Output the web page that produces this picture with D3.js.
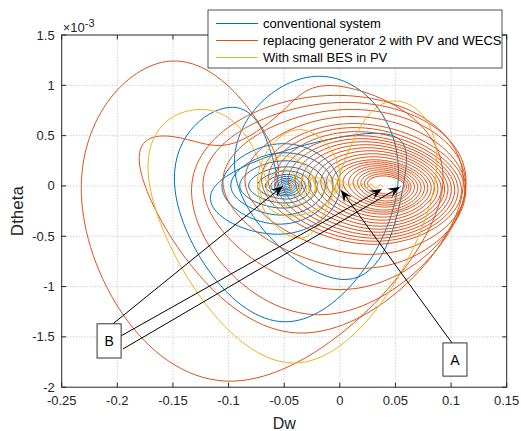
<!DOCTYPE html>
<html><head><meta charset="utf-8">
<script src="https://cdn.jsdelivr.net/npm/d3@7"></script>
<style>body{margin:0;background:#fff}svg{display:block}</style>
</head><body><svg id="c" width="521" height="431"></svg>
<script>
// ---------- data ----------
const xTicks = [-0.25,-0.2,-0.15,-0.1,-0.05,0,0.05,0.1,0.15];
const xTickLabels = ["-0.25","-0.2","-0.15","-0.1","-0.05","0","0.05","0.1","0.15"];
const yTicks = [-2,-1.5,-1,-0.5,0,0.5,1,1.5];            // x 10^-3
const yTickLabels = ["-2","-1.5","-1","-0.5","0","0.5","1","1.5"];
const seriesNames = ["conventional system","replacing generator 2 with PV and WECS","With small BES in PV"];
const seriesColors = ["#0072BD","#D95319","#EDB120"];

// trajectory points [Dw, Dtheta(x1e-3)], extreme points of each loop in order
const conventional = [
 [-0.055,0.0],[-0.064,0.40],[-0.100,0.78],[-0.148,-0.05],[-0.050,-1.35],[0.052,0.0],
 [-0.018,1.09],[-0.094,0.12],[0.005,-0.93],[0.057,0.0],[0.024,0.52],[-0.112,0.0],
 [-0.055,-0.48],[0.000,0.0],[-0.052,0.42],[-0.106,0.0],[-0.053,-0.38],[-0.006,0.0],
 [-0.051,0.33],[-0.098,0.0],[-0.051,-0.29],[-0.013,0.0],[-0.050,0.25],[-0.090,0.0],
 [-0.050,-0.22],[-0.020,0.0],[-0.049,0.19],[-0.082,0.0],[-0.049,-0.17],[-0.026,0.0],
 [-0.048,0.15],[-0.074,0.0],[-0.048,-0.13],[-0.031,0.0],[-0.048,0.115],[-0.067,0.0],
 [-0.048,-0.10],[-0.034,0.0],[-0.048,0.095],[-0.062,0.0],[-0.048,-0.085],[-0.037,0.0],
 [-0.048,0.075],[-0.059,0.0],[-0.048,-0.068],[-0.039,0.0],[-0.048,0.06],[-0.056,0.0],
 [-0.048,-0.052],[-0.041,0.0],[-0.048,0.045],[-0.054,0.0],[-0.048,-0.038],[-0.043,0.0],
 [-0.048,0.03],[-0.052,0.0],[-0.048,-0.024],[-0.045,0.0],[-0.048,0.016],[-0.050,0.0],
 [-0.048,-0.01],[-0.047,0.0]
];
const pvWecs = [
 [-0.058,0.0],[-0.066,0.50],[-0.153,1.24],[-0.232,-0.15],[-0.096,-1.94],[0.090,-0.15],
 [0.010,0.97],[-0.050,0.76],[-0.101,0.41],[-0.150,0.49],[-0.175,0.0],[-0.040,-1.46],
 [0.110,-0.08],[0.000,0.90],[-0.133,0.02],[-0.020,-1.28],[0.113,-0.04],[0.005,0.83],
 [-0.123,0.02],[0.000,-1.03],[0.113,0.0],[0.008,0.76],[-0.105,0.02],[0.018,-0.82],
 [0.113,0.0],[0.010,0.69],[-0.085,0.02],[0.026,-0.68],
 [0.112,0.0],[0.012,0.62],[-0.070,0.02],[0.030,-0.58],
 [0.109,0.0],[0.014,0.58],[-0.064,0.02],[0.031,-0.55],
 [0.106,0.0],[0.016,0.54],[-0.058,0.02],[0.032,-0.52],
 [0.103,0.0],[0.018,0.50],[-0.052,0.02],[0.033,-0.49],
 [0.100,0.0],[0.020,0.47],[-0.046,0.02],[0.034,-0.46],
 [0.097,0.0],[0.022,0.44],[-0.040,0.02],[0.035,-0.43],
 [0.094,0.0],[0.024,0.41],[-0.034,0.02],[0.036,-0.40],
 [0.091,0.0],[0.026,0.38],[-0.028,0.02],[0.037,-0.37],
 [0.088,0.0],[0.028,0.35],[-0.022,0.02],[0.037,-0.34],
 [0.085,0.0],[0.030,0.32],[-0.017,0.02],[0.038,-0.31],
 [0.082,0.0],[0.031,0.29],[-0.012,0.02],[0.038,-0.28],
 [0.079,0.0],[0.032,0.26],[-0.007,0.02],[0.039,-0.26],
 [0.076,0.0],[0.033,0.24],[-0.002,0.02],[0.039,-0.24],
 [0.073,0.0],[0.034,0.22],[0.003,0.02],[0.040,-0.21],
 [0.070,0.0],[0.035,0.20],[0.008,0.02],[0.040,-0.19],
 [0.067,0.0],[0.036,0.18],[0.012,0.02],[0.040,-0.17],
 [0.064,0.0],[0.037,0.16],[0.016,0.02],[0.041,-0.15],
 [0.062,0.0],[0.038,0.14],[0.019,0.02],[0.041,-0.12],
 [0.060,0.0],[0.039,0.12],[0.022,0.02],[0.041,-0.10],
 [0.058,0.0],[0.040,0.10],[0.025,0.02],[0.041,-0.08],
 [0.055,0.0]
];
const smallBes = [
 [-0.065,0.0],[-0.078,0.38],[-0.123,0.76],[-0.170,-0.05],[-0.042,-1.76],[0.084,-0.05],
 [0.045,0.84],[0.000,0.12],[-0.035,-0.52],[-0.074,0.0],[-0.036,0.56],[0.000,0.05],
 [-0.045,-0.30],[-0.072,0.0],[-0.050,0.30],[-0.022,0.0],[-0.047,-0.20],[-0.066,0.0],
 [-0.048,0.16],[-0.036,0.0],[-0.040,-0.10],[-0.044,0.0],[-0.038,0.11],[-0.030,0.0],
 [-0.033,-0.09],[-0.036,0.0],[-0.030,0.10],[-0.022,0.0],[-0.025,-0.085],[-0.028,0.0],
 [-0.022,0.09],[-0.014,0.0],[-0.017,-0.08],[-0.020,0.0],[-0.014,0.08],[-0.006,0.0],
 [-0.009,-0.07],[-0.012,0.0],[-0.006,0.07],[0.002,0.0],[-0.001,-0.06],[-0.004,0.0],
 [0.002,0.05],[0.008,0.0],[0.012,0.03],[0.016,-0.02],[0.020,0.02],[0.024,-0.02],
 [0.028,0.02],[0.032,-0.02],[0.036,0.01],[0.039,-0.01]
];
const series = [conventional, pvWecs, smallBes];

// annotations (data coordinates)
const arrowsData = [
 {from:[0.1008,-1.56], to:[0.001,-0.04]},
 {from:[-0.2039,-1.37], to:[-0.051,0.0]},
 {from:[-0.1966,-1.49], to:[0.0379,-0.03]},
 {from:[-0.1949,-1.62], to:[0.0541,-0.01]}
];
const boxesData = [
 {label:"A", x0:0.0927, x1:0.1143, y0:-1.56, y1:-1.89},
 {label:"B", x0:-0.2182, x1:-0.1966, y0:-1.37, y1:-1.71}
];

// ---------- drawing ----------
const svg = d3.select("#c");
const L = 61.7, R = 506.7, T = 35, B = 387.2;
const x = d3.scaleLinear().domain([-0.25,0.15]).range([L,R]);
const y = d3.scaleLinear().domain([-2,1.5]).range([B,T]);
const ink = "#262626";
const font = "'Liberation Sans', Arial, sans-serif";

svg.append("rect").attr("width",521).attr("height",431).attr("fill","#fff");
svg.append("rect").attr("x",L).attr("y",T).attr("width",R-L).attr("height",B-T).attr("fill","#fff");

// grid
const grid = svg.append("g").attr("stroke","#bdbdbd").attr("stroke-width",0.8).attr("stroke-dasharray","1.2,1.6");
grid.selectAll(".gx").data(xTicks.slice(1,-1)).join("line")
  .attr("x1",d=>x(d)).attr("x2",d=>x(d)).attr("y1",T).attr("y2",B);
grid.selectAll(".gy").data(yTicks.slice(1,-1)).join("line")
  .attr("y1",d=>y(d)).attr("y2",d=>y(d)).attr("x1",L).attr("x2",R);

// curves
svg.append("clipPath").attr("id","clip").append("rect").attr("x",L).attr("y",T).attr("width",R-L).attr("height",B-T);
const line = d3.line().x(d=>x(d[0])).y(d=>y(d[1])).curve(d3.curveNatural);
const cg = svg.append("g").attr("clip-path","url(#clip)");
series.forEach((s,i)=>{
  cg.append("path").attr("d",line(s)).attr("fill","none")
    .attr("stroke",seriesColors[i]).attr("stroke-width",1);
});

// annotations
const ag = svg.append("g");
arrowsData.forEach(a=>{
  const x0=x(a.from[0]), y0=y(a.from[1]), x1=x(a.to[0]), y1=y(a.to[1]);
  const dx=x1-x0, dy=y1-y0, len=Math.hypot(dx,dy), ux=dx/len, uy=dy/len, nx=-uy, ny=ux;
  const hl=12, hw=4.8;
  const bx=x1-hl*ux, by=y1-hl*uy, kx=x1-0.62*hl*ux, ky=y1-0.62*hl*uy;
  ag.append("line").attr("x1",x0).attr("y1",y0).attr("x2",kx).attr("y2",ky)
    .attr("stroke","#000").attr("stroke-width",1);
  ag.append("path").attr("d",`M${x1},${y1}L${bx+hw*nx},${by+hw*ny}L${kx},${ky}L${bx-hw*nx},${by-hw*ny}Z`)
    .attr("fill","#000");
});
boxesData.forEach(b=>{
  ag.append("rect").attr("x",x(b.x0)).attr("y",y(b.y0)).attr("width",x(b.x1)-x(b.x0)).attr("height",y(b.y1)-y(b.y0))
    .attr("fill","#fff").attr("stroke","#333").attr("stroke-width",1);
  ag.append("text").attr("x",(x(b.x0)+x(b.x1))/2).attr("y",(y(b.y0)+y(b.y1))/2+5)
    .attr("text-anchor","middle").attr("font-family",font).attr("font-size",14).attr("fill","#000").text(b.label);
});

// box + ticks
const ax = svg.append("g").attr("stroke",ink).attr("stroke-width",1);
ax.append("rect").attr("x",L).attr("y",T).attr("width",R-L).attr("height",B-T).attr("fill","none");
const tl = 4.5;
xTicks.forEach(t=>{
  ax.append("line").attr("x1",x(t)).attr("x2",x(t)).attr("y1",B).attr("y2",B-tl);
  ax.append("line").attr("x1",x(t)).attr("x2",x(t)).attr("y1",T).attr("y2",T+tl);
});
yTicks.forEach(t=>{
  ax.append("line").attr("y1",y(t)).attr("y2",y(t)).attr("x1",L).attr("x2",L+tl);
  ax.append("line").attr("y1",y(t)).attr("y2",y(t)).attr("x1",R).attr("x2",R-tl);
});

// tick labels
const tx = svg.append("g").attr("font-family",font).attr("font-size",13).attr("fill",ink);
xTicks.forEach((t,i)=>{
  tx.append("text").attr("x",x(t)).attr("y",B+17.5).attr("text-anchor","middle").text(xTickLabels[i]);
});
yTicks.forEach((t,i)=>{
  tx.append("text").attr("x",L-7).attr("y",y(t)+4.5).attr("text-anchor","end").text(yTickLabels[i]);
});
const ex = tx.append("text").attr("x",L+1).attr("y",T-3);
ex.append("tspan").text("\u00d710");
ex.append("tspan").attr("dy",-5).attr("font-size",11).text("-3");

// axis labels
svg.append("text").attr("x",(L+R)/2).attr("y",429).attr("text-anchor","middle")
  .attr("font-family",font).attr("font-size",16).attr("fill",ink).text("Dw");
svg.append("text").attr("transform",`translate(23,${(T+B)/2}) rotate(-90)`).attr("text-anchor","middle")
  .attr("font-family",font).attr("font-size",17).attr("fill",ink).text("Dtheta");

// legend
const lg = svg.append("g");
lg.append("rect").attr("x",208).attr("y",10).attr("width",294).attr("height",58)
  .attr("fill","#fff").attr("stroke",ink).attr("stroke-width",0.8);
seriesNames.forEach((n,i)=>{
  const yy = 23.5 + i*17;
  lg.append("line").attr("x1",216).attr("x2",258).attr("y1",yy).attr("y2",yy)
    .attr("stroke",seriesColors[i]).attr("stroke-width",1);
  lg.append("text").attr("x",263).attr("y",yy+4.5).attr("font-family",font).attr("font-size",13)
    .attr("fill","#000").text(n);
});
</script></body></html>
